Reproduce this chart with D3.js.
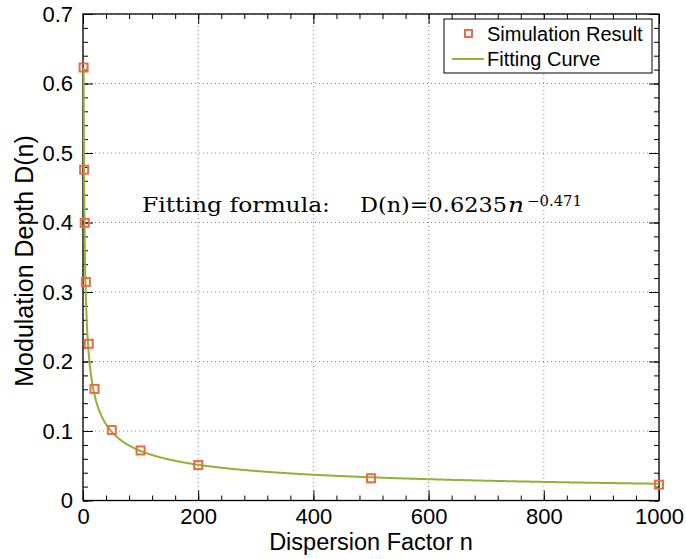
<!DOCTYPE html>
<html>
<head>
<meta charset="utf-8">
<script src="https://cdn.jsdelivr.net/npm/d3@7"></script>
<style>
  body { margin: 0; background: #fff; }
  svg { display: block; font-family: "Liberation Sans", Arial, Helvetica, sans-serif; }
</style>
</head>
<body>
<svg id="chart"></svg>
<script>
// dispersion factor n for each simulation run
const nValues = [1, 2, 3, 5, 10, 20, 50, 100, 200, 500, 1000];
// modulation depth
const depthValues = [0.623, 0.476, 0.3995, 0.3145, 0.2255, 0.1605, 0.1015, 0.072, 0.051, 0.032, 0.0228];
// fit coefficients printed on the figure: D(n) = a * n^b
const fitCoefA = 0.6235;
const fitCoefB = -0.471;
const xTicks = [0, 200, 400, 600, 800, 1000];
const yTicks = [0, 0.1, 0.2, 0.3, 0.4, 0.5, 0.6, 0.7];
const legendLabels = ['Simulation Result', 'Fitting Curve'];

class DepthChart {
    constructor(_config) {
        this.config = {
            parentElement: _config.parentElement,
            containerWidth: 686,
            containerHeight: 559,
            margin: { top: 14, right: 27, bottom: 58.5, left: 83 }
        };
        this.initVis();
    }

    initVis() {
        let vis = this;
        const m = vis.config.margin;
        vis.width = vis.config.containerWidth - m.left - m.right;
        vis.height = vis.config.containerHeight - m.top - m.bottom;

        vis.xScale = d3.scaleLinear().domain([0, 1000]).range([0, vis.width]);
        vis.yScale = d3.scaleLinear().domain([0, 0.7]).range([vis.height, 0]);

        vis.svg = d3.select(vis.config.parentElement)
            .attr('width', vis.config.containerWidth)
            .attr('height', vis.config.containerHeight);

        vis.chart = vis.svg.append('g')
            .attr('transform', `translate(${m.left},${m.top})`);

        vis.renderVis();
    }

    renderVis() {
        let vis = this;
        const w = vis.width, h = vis.height;

        // dotted grid
        vis.chart.append('g').selectAll('line.gx')
            .data(xTicks)
            .join('line')
            .attr('x1', d => vis.xScale(d)).attr('x2', d => vis.xScale(d))
            .attr('y1', 0).attr('y2', h)
            .attr('stroke', '#8a8a8a').attr('stroke-width', 1)
            .attr('stroke-dasharray', '1,3');
        vis.chart.append('g').selectAll('line.gy')
            .data(yTicks)
            .join('line')
            .attr('y1', d => vis.yScale(d)).attr('y2', d => vis.yScale(d))
            .attr('x1', 0).attr('x2', w)
            .attr('stroke', '#8a8a8a').attr('stroke-width', 1)
            .attr('stroke-dasharray', '1,3');

        // axes: inward major + minor ticks on all four sides
        const xMinor = d3.range(0, 1001, 40);
        const yMinor = d3.range(0, 36).map(i => i * 0.02);

        const addAxis = (axis, transform) => {
            const g = vis.chart.append('g').attr('transform', transform).call(axis);
            g.select('.domain').remove();
            g.selectAll('line').attr('stroke', '#000').attr('stroke-width', 1);
            return g;
        };

        addAxis(d3.axisBottom(vis.xScale).tickValues(xMinor).tickSize(-5).tickFormat(''), `translate(0,${h})`);
        addAxis(d3.axisTop(vis.xScale).tickValues(xMinor).tickSize(-5).tickFormat(''), 'translate(0,0)');
        addAxis(d3.axisLeft(vis.yScale).tickValues(yMinor).tickSize(-5).tickFormat(''), 'translate(0,0)');
        addAxis(d3.axisRight(vis.yScale).tickValues(yMinor).tickSize(-5).tickFormat(''), `translate(${w},0)`);

        const xAxisG = addAxis(d3.axisBottom(vis.xScale).tickValues(xTicks).tickSize(-10).tickPadding(8).tickFormat(d3.format('d')), `translate(0,${h})`);
        addAxis(d3.axisTop(vis.xScale).tickValues(xTicks).tickSize(-10).tickFormat(''), 'translate(0,0)');
        const yAxisG = addAxis(d3.axisLeft(vis.yScale).tickValues(yTicks).tickSize(-10).tickPadding(10).tickFormat(d => d === 0 ? '0' : d3.format('.1f')(d)), 'translate(0,0)');
        addAxis(d3.axisRight(vis.yScale).tickValues(yTicks).tickSize(-10).tickFormat(''), `translate(${w},0)`);

        xAxisG.selectAll('text')
            .attr('font-size', 22).attr('fill', '#000')
            .attr('font-family', '"Liberation Sans", Arial, sans-serif');
        yAxisG.selectAll('text')
            .attr('font-size', 22).attr('fill', '#000')
            .attr('font-family', '"Liberation Sans", Arial, sans-serif');

        // frame
        vis.chart.append('rect')
            .attr('width', w).attr('height', h)
            .attr('fill', 'none').attr('stroke', '#000').attr('stroke-width', 1.3);

        // fitting curve from the printed coefficients
        const curveN = d3.range(1, 1001, 1);
        const line = d3.line()
            .x(n => vis.xScale(n))
            .y(n => vis.yScale(fitCoefA * Math.pow(n, fitCoefB)));
        vis.chart.append('path')
            .datum(curveN)
            .attr('d', line)
            .attr('fill', 'none')
            .attr('stroke', '#8db435')
            .attr('stroke-width', 2);

        // simulation markers
        const pts = nValues.map((n, i) => ({ n: n, d: depthValues[i] }));
        vis.chart.selectAll('rect.marker')
            .data(pts)
            .join('rect')
            .attr('class', 'marker')
            .attr('x', d => vis.xScale(d.n) - 4)
            .attr('y', d => vis.yScale(d.d) - 4)
            .attr('width', 8).attr('height', 8)
            .attr('fill', 'none')
            .attr('stroke', '#ee6a43')
            .attr('stroke-width', 2);

        // formula annotation
        const serif = '"DejaVu Serif", "Liberation Serif", serif';
        const fy = 212 - vis.config.margin.top;
        const fx = v => v - vis.config.margin.left;
        vis.chart.append('text')
            .attr('x', fx(142)).attr('y', fy)
            .attr('font-family', serif).attr('font-size', 20)
            .attr('textLength', 188).attr('lengthAdjust', 'spacingAndGlyphs')
            .text('Fitting formula:');
        vis.chart.append('text')
            .attr('x', fx(360)).attr('y', fy)
            .attr('font-family', serif).attr('font-size', 20)
            .attr('textLength', 147).attr('lengthAdjust', 'spacingAndGlyphs')
            .text('D(n)=0.6235');
        vis.chart.append('text')
            .attr('x', fx(508)).attr('y', fy)
            .attr('font-family', serif).attr('font-size', 21).attr('font-style', 'italic')
            .attr('textLength', 16).attr('lengthAdjust', 'spacingAndGlyphs')
            .text('n');
        vis.chart.append('text')
            .attr('x', fx(527)).attr('y', 205.5 - vis.config.margin.top)
            .attr('font-family', serif).attr('font-size', 14.5)
            .attr('textLength', 55).attr('lengthAdjust', 'spacingAndGlyphs')
            .text('\u22120.471');

        // legend
        const leg = vis.svg.append('g');
        leg.append('rect')
            .attr('x', 444).attr('y', 19).attr('width', 208).attr('height', 54)
            .attr('fill', '#fff').attr('stroke', '#000').attr('stroke-width', 1);
        leg.append('rect')
            .attr('x', 465).attr('y', 30).attr('width', 7).attr('height', 7)
            .attr('fill', 'none').attr('stroke', '#ee6a43').attr('stroke-width', 2);
        leg.append('line')
            .attr('x1', 452).attr('x2', 484).attr('y1', 59).attr('y2', 59)
            .attr('stroke', '#8db435').attr('stroke-width', 2);
        leg.selectAll('text.legend')
            .data(legendLabels)
            .join('text')
            .attr('x', 487)
            .attr('y', (d, i) => 41 + i * 25)
            .attr('font-size', 20)
            .attr('fill', '#000')
            .text(d => d);

        // axis titles
        vis.svg.append('text')
            .attr('x', vis.config.margin.left + w / 2)
            .attr('y', 550)
            .attr('text-anchor', 'middle')
            .attr('font-size', 23.5)
            .text('Dispersion Factor n');
        vis.svg.append('text')
            .attr('transform', 'translate(33,261) rotate(-90)')
            .attr('text-anchor', 'middle')
            .attr('font-size', 25)
            .text('Modulation Depth D(n)');
    }
}

new DepthChart({ parentElement: '#chart' });
</script>
</body>
</html>
